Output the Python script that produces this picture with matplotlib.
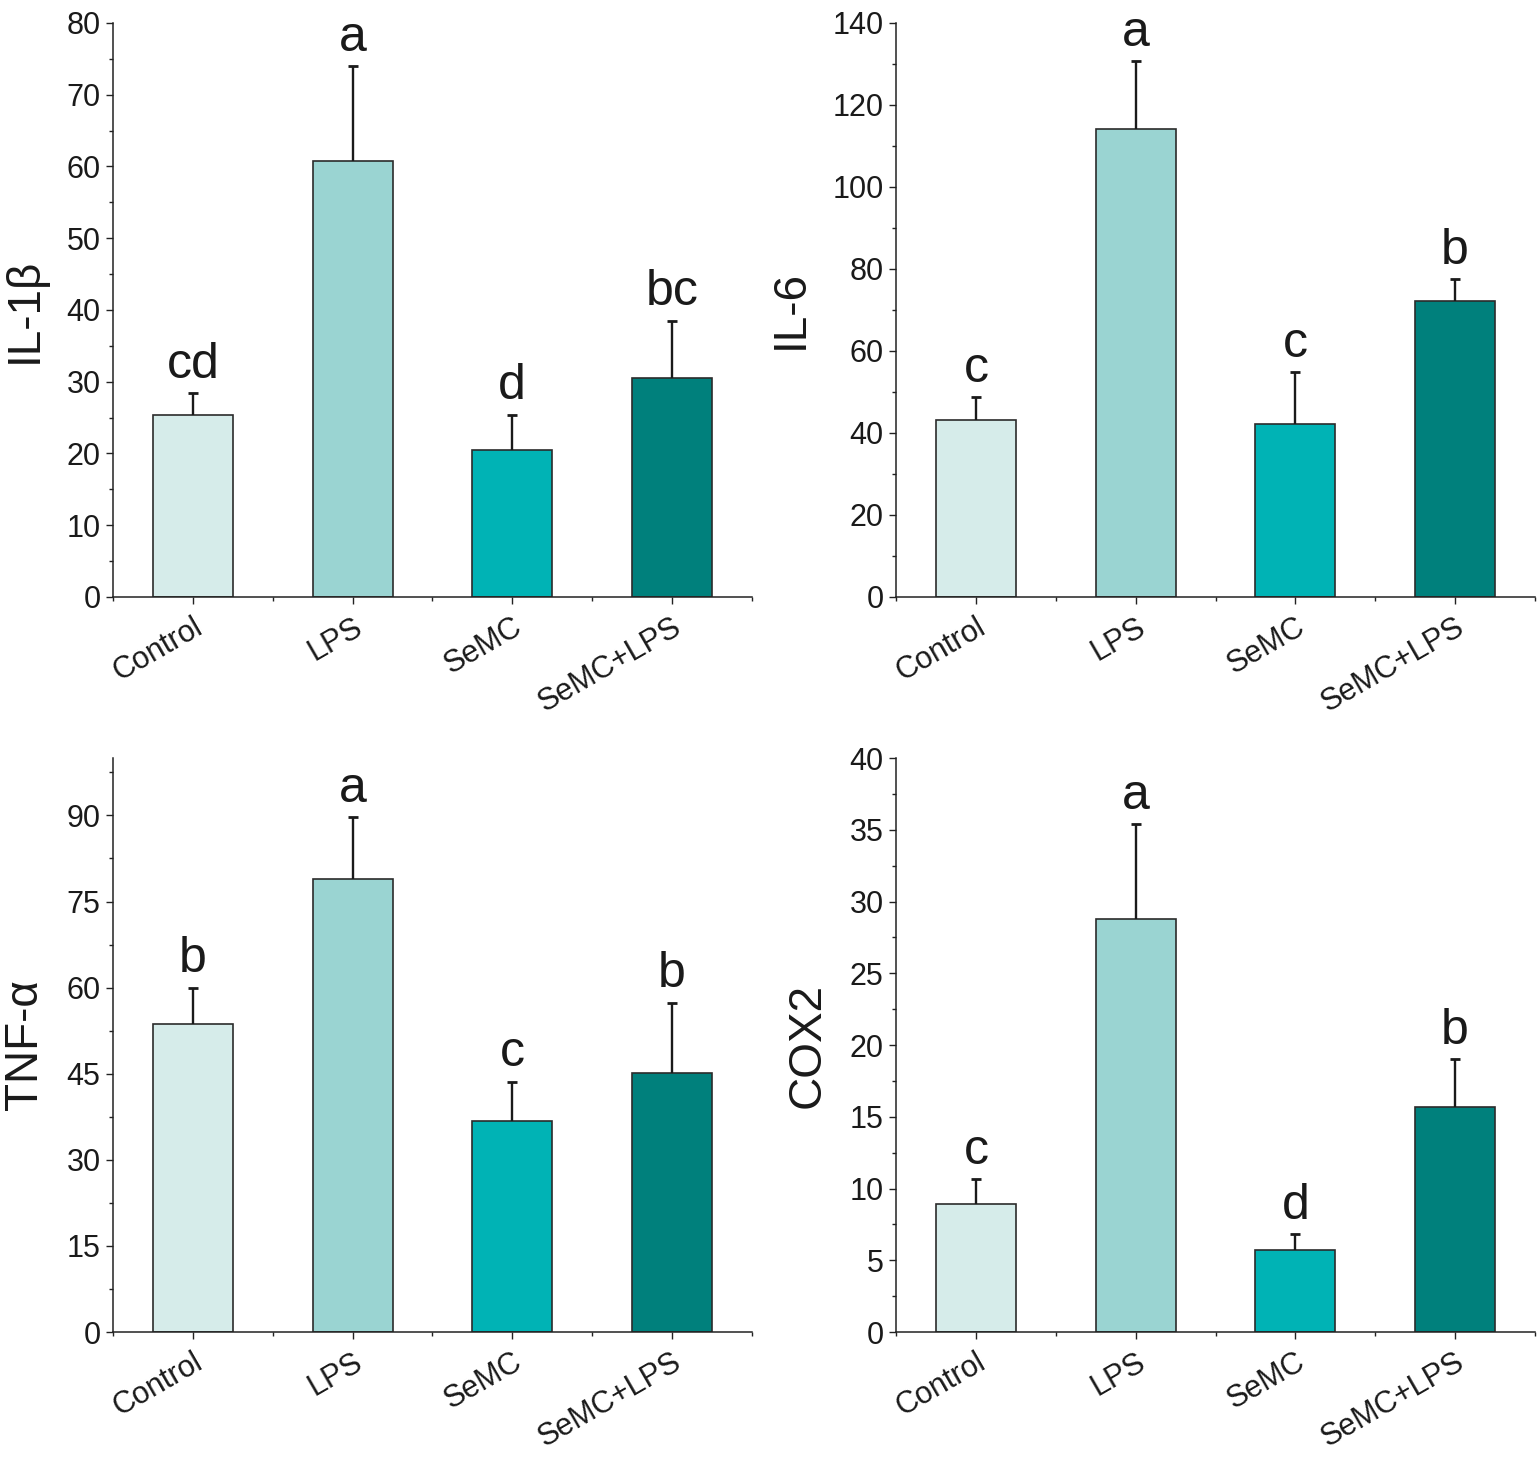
import matplotlib
matplotlib.use("Agg")
import matplotlib.pyplot as plt
from matplotlib.ticker import MultipleLocator, FixedLocator

plt.rcParams["font.family"] = ["Liberation Sans", "DejaVu Sans"]

# ---------------------------------------------------------------------------
# Data
# ---------------------------------------------------------------------------
groups = ["Control", "LPS", "SeMC", "SeMC+LPS"]
colors = ["#d6ecea", "#9ad4d2", "#00b3b5", "#00807c"]

il1b_mean = [25.4, 60.7, 20.5, 30.5]
il1b_err = [3.0, 13.3, 4.9, 8.0]
il1b_sig = ["cd", "a", "d", "bc"]

il6_mean = [43.2, 114.2, 42.2, 72.3]
il6_err = [5.6, 16.5, 12.7, 5.3]
il6_sig = ["c", "a", "c", "b"]

tnfa_mean = [53.7, 79.0, 36.8, 45.2]
tnfa_err = [6.3, 10.7, 6.8, 12.2]
tnfa_sig = ["b", "a", "c", "b"]

cox2_mean = [8.95, 28.8, 5.75, 15.7]
cox2_err = [1.7, 6.6, 1.05, 3.3]
cox2_sig = ["c", "a", "d", "b"]

panels = [
    # label, means, errs, letters, ymax, major step, axes rect
    ("IL-1β", il1b_mean, il1b_err, il1b_sig, 80, 10, [0.0735, 0.5917, 0.4157, 0.3926]),
    ("IL-6", il6_mean, il6_err, il6_sig, 140, 20, [0.583, 0.5917, 0.4157, 0.3926]),
    ("TNF-α", tnfa_mean, tnfa_err, tnfa_sig, 100, 15, [0.0735, 0.0889, 0.4157, 0.3926]),
    ("COX2", cox2_mean, cox2_err, cox2_sig, 40, 5, [0.583, 0.0889, 0.4157, 0.3926]),
]

fig = plt.figure(figsize=(15.37, 14.62), dpi=100)

xpos = [1, 2, 3, 4]
for ylabel, means, errs, letters, ymax, step, rect in panels:
    ax = fig.add_axes(rect)
    ax.bar(xpos, means, width=0.5, color=colors, edgecolor="#2b2b2b",
           linewidth=1.2, zorder=2)
    _, caps, _ = ax.errorbar(xpos, means, yerr=[[0] * 4, errs], fmt="none",
                             ecolor="#1a1a1a", elinewidth=1.7, capsize=3.5,
                             capthick=2.0, zorder=3)
    caps[0].set_visible(False)  # only the upper cap
    for x, m, e, s in zip(xpos, means, errs, letters):
        ax.annotate(s, (x, m + e), xytext=(0, 11), textcoords="offset points",
                    ha="center", va="baseline", fontsize=36, color="#1a1a1a")

    ax.set_xlim(0.5, 4.5)
    ax.set_ylim(0, ymax)
    ax.yaxis.set_major_locator(MultipleLocator(step))
    ax.yaxis.set_minor_locator(MultipleLocator(step / 2))
    ax.xaxis.set_major_locator(FixedLocator(xpos))
    ax.xaxis.set_minor_locator(FixedLocator([0.5, 1.5, 2.5, 3.5, 4.5]))
    ax.set_xticklabels(groups, rotation=30, ha="right",
                       rotation_mode="anchor")

    for side in ("top", "right"):
        ax.spines[side].set_visible(False)
    for side in ("left", "bottom"):
        ax.spines[side].set_color("#222222")
        ax.spines[side].set_linewidth(1.1)

    ax.tick_params(which="major", length=5, width=1.0, color="#222222",
                   labelsize=22, pad=4, labelcolor="#1a1a1a")
    ax.tick_params(which="minor", length=3, width=1.0, color="#222222")
    ax.tick_params(axis="x", which="major", pad=6)
    ax.set_ylabel(ylabel, fontsize=33, labelpad=14, color="#1a1a1a")

fig.savefig("out.png", dpi=100)
